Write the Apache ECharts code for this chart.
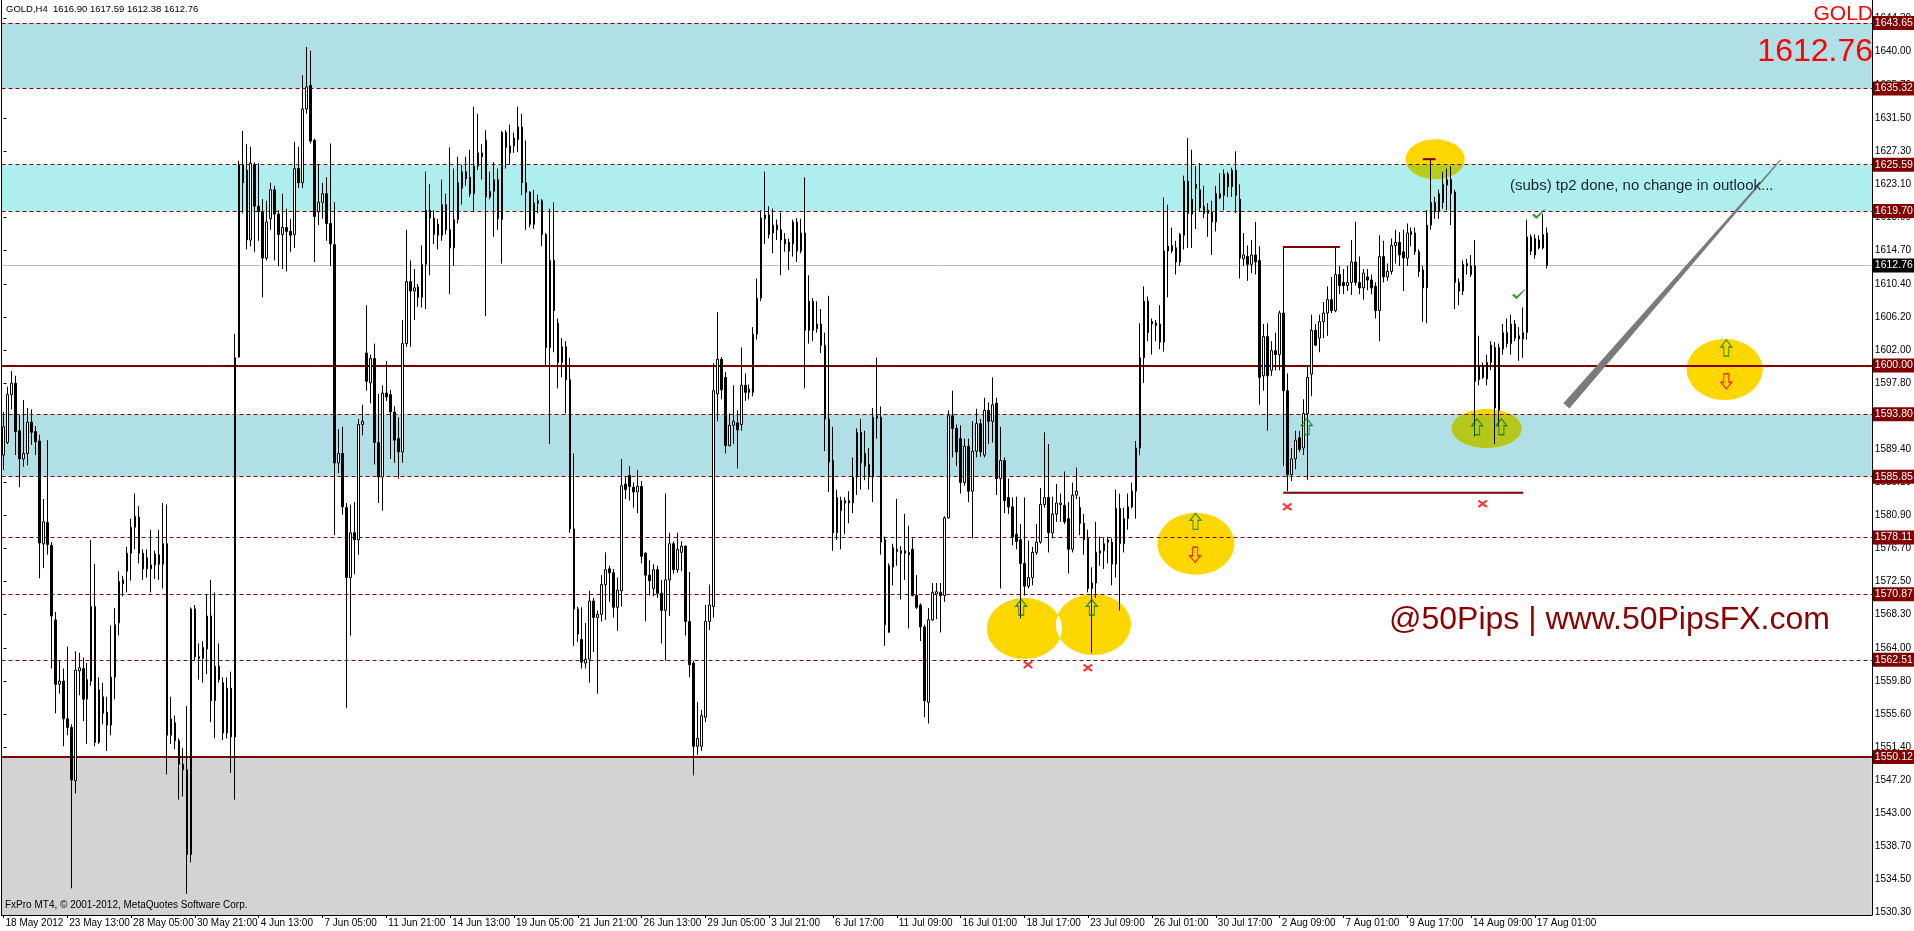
<!DOCTYPE html>
<html><head><meta charset="utf-8">
<script src="https://cdn.jsdelivr.net/npm/echarts@6/dist/echarts.min.js"></script>
<style>html,body{margin:0;padding:0;background:#fff;overflow:hidden}#c{width:1914px;height:931px}</style>
</head><body><div id="c"></div>
<script>
// ---------------- DATA ----------------
const SYMBOL = 'GOLD';
const PERIOD = 'H4';
const OPEN = [
1588.6,1590.2,1596.3,1597.75,1591.7,1588.1,1588.8,1592.8,1591.6,1590.4,
1577.3,1580.0,1577.1,1567.6,1559.4,1559.8,1555.0,1553.9,1547.1,1561.1,
1561.4,1557.5,1559.8,1569.3,1552.0,1557.8,1555.8,1554.2,1560.3,1567.2,
1572.7,1573.8,1576.1,1579.4,1580.7,1576.1,1574.1,1574.1,1574.6,1575.9,
1574.7,1577.3,1552.9,1554.5,1552.2,1549.2,1548.5,1537.7,1569.0,1562.9,
1562.7,1563.9,1568.1,1557.3,1561.7,1559.6,1553.2,1558.9,1552.7,1601.1,
1625.6,1624.9,1616.0,1625.6,1620.3,1619.6,1613.7,1618.7,1622.4,1619.3,
1616.7,1617.6,1617.1,1616.7,1625.1,1623.3,1632.7,1635.7,1628.7,1619.6,
1620.8,1621.9,1618.1,1615.4,1587.6,1588.8,1581.9,1573.0,1578.7,1577.8,
1592.5,1601.6,1597.8,1600.9,1590.2,1585.8,1596.5,1596.3,1594.1,1590.7,
1589.0,1602.8,1610.7,1609.5,1610.0,1608.7,1612.9,1619.8,1618.8,1618.0,
1616.6,1620.5,1617.3,1615.0,1618.6,1622.6,1624.7,1624.0,1621.9,1625.4,
1627.1,1628.7,1621.5,1622.2,1623.7,1618.6,1629.7,1627.1,1628.0,1628.8,
1630.4,1623.3,1622.1,1618.0,1620.7,1621.0,1616.7,1602.3,1613.4,1605.4,
1600.4,1602.4,1598.2,1579.2,1569.0,1565.1,1562.1,1562.6,1570.0,1567.9,
1568.3,1572.1,1574.1,1573.6,1569.2,1571.3,1584.9,1586.0,1584.5,1583.9,
1584.6,1576.1,1573.3,1571.6,1574.0,1571.0,1568.8,1572.7,1577.3,1574.0,
1576.2,1577.0,1567.4,1562.1,1551.5,1551.5,1555.2,1567.4,1569.3,1596.4,
1600.8,1598.5,1589.8,1592.4,1592.7,1592.5,1597.5,1597.0,1596.6,1604.0,
1608.6,1618.7,1619.2,1616.9,1617.9,1617.3,1616.1,1615.7,1615.5,1618.3,
1614.6,1616.9,1604.5,1608.2,1604.7,1605.3,1602.6,1593.2,1587.9,1578.7,
1581.5,1582.8,1582.8,1582.5,1585.8,1591.5,1588.8,1587.4,1585.8,1593.3,
1593.4,1577.8,1566.0,1574.3,1576.6,1576.4,1576.4,1576.2,1576.6,1570.7,
1569.5,1566.7,1557.1,1567.6,1570.9,1571.1,1570.7,1580.6,1593.6,1592.0,
1590.7,1585.1,1589.7,1584.0,1589.1,1592.6,1588.6,1594.3,1592.9,1595.2,
1585.6,1587.9,1583.2,1582.0,1578.5,1577.8,1574.8,1571.9,1573.0,1576.2,
1577.5,1582.3,1583.2,1578.7,1581.1,1582.3,1582.2,1580.5,1576.6,1583.5,
1581.9,1579.9,1578.0,1571.6,1572.3,1576.1,1576.4,1577.8,1577.5,1574.7,
1581.8,1577.3,1580.5,1582.0,1584.0,1589.5,1601.0,1608.2,1605.6,1605.4,
1605.3,1603.0,1615.2,1614.6,1615.0,1613.2,1616.6,1623.5,1619.3,1623.1,
1622.4,1620.3,1619.8,1619.5,1618.3,1621.9,1621.7,1624.4,1622.8,1624.9,
1621.2,1613.6,1613.9,1612.9,1614.1,1613.4,1598.7,1603.7,1599.4,1601.9,
1601.4,1606.7,1596.8,1586.1,1588.1,1590.8,1589.5,1593.9,1598.9,1604.5,
1603.5,1605.6,1606.7,1608.4,1607.0,1611.6,1610.6,1610.2,1610.6,1613.2,
1610.6,1609.9,1611.3,1610.9,1610.1,1607.0,1613.9,1611.3,1612.0,1615.3,
1615.7,1614.5,1613.7,1616.7,1616.9,1614.5,1612.2,1609.9,1617.9,1619.6,
1619.6,1620.8,1623.0,1623.7,1622.1,1610.6,1609.5,1612.7,1611.6,1612.7,
1598.2,1600.0,1600.4,1600.4,1602.3,1594.3,1602.1,1604.2,1602.8,1605.3,
1603.8,1603.4,1604.2,1616.4,1614.1,1616.0,1615.0,1616.90];
const HIGH = [
1594.1,1597.3,1599.3,1598.7,1593.7,1595.6,1594.6,1594.4,1592.3,1591.2,
1583.0,1590.5,1577.5,1568.6,1562.4,1561.4,1564.2,1554.3,1563.6,1563.4,
1562.8,1562.1,1577.8,1574.7,1560.3,1559.6,1557.8,1566.9,1569.1,1573.8,
1573.2,1576.9,1580.5,1583.7,1582.1,1576.6,1576.6,1579.1,1576.4,1579.1,
1582.5,1582.3,1557.8,1555.4,1552.5,1551.3,1556.6,1569.2,1569.5,1564.6,
1564.9,1570.9,1572.7,1571.1,1564.6,1560.3,1560.3,1561.0,1604.0,1626.1,
1629.9,1628.2,1627.9,1625.9,1625.8,1621.2,1621.0,1623.3,1622.9,1619.8,
1621.9,1620.0,1618.7,1628.5,1627.9,1637.0,1640.6,1640.1,1628.9,1625.6,
1623.3,1624.0,1628.3,1620.8,1591.9,1592.2,1582.5,1582.3,1582.6,1593.2,
1595.0,1607.7,1601.4,1602.8,1596.4,1597.5,1600.6,1596.9,1594.8,1593.4,
1605.8,1617.3,1613.4,1612.3,1610.4,1615.3,1624.7,1623.1,1619.8,1618.7,
1623.7,1621.9,1627.8,1625.1,1626.6,1625.6,1626.6,1627.5,1633.0,1632.1,
1628.2,1630.0,1624.7,1625.9,1625.1,1629.9,1630.0,1630.7,1629.7,1633.0,
1632.1,1628.7,1622.2,1622.4,1621.8,1621.2,1616.9,1620.0,1620.8,1606.0,
1603.5,1603.1,1601.0,1588.8,1569.3,1569.2,1567.2,1571.3,1570.4,1568.8,
1573.3,1576.2,1574.5,1574.1,1573.0,1588.1,1585.8,1587.2,1585.1,1586.7,
1585.3,1576.2,1575.2,1574.7,1574.5,1572.7,1583.7,1578.7,1577.6,1578.7,
1577.6,1577.1,1573.7,1562.4,1557.1,1556.1,1569.5,1572.1,1600.3,1606.8,
1601.1,1599.2,1593.9,1597.5,1594.3,1602.3,1599.0,1597.6,1604.9,1611.1,
1619.8,1624.7,1620.3,1620.0,1618.6,1619.5,1616.9,1616.2,1618.6,1618.8,
1618.7,1624.0,1611.5,1608.6,1608.2,1607.2,1604.2,1608.9,1592.2,1584.2,
1583.3,1583.2,1584.0,1588.3,1592.0,1593.2,1591.7,1589.5,1594.6,1601.0,
1594.8,1578.2,1574.8,1577.3,1583.0,1577.0,1581.1,1579.6,1578.0,1573.3,
1569.7,1567.0,1569.1,1572.3,1572.3,1572.3,1580.8,1594.3,1596.8,1592.5,
1592.4,1590.7,1590.7,1592.9,1594.5,1593.2,1595.9,1595.3,1598.5,1595.9,
1592.2,1588.3,1585.6,1583.2,1583.3,1579.8,1583.2,1577.7,1576.9,1579.8,
1584.4,1591.5,1590.0,1583.3,1584.9,1583.7,1586.5,1582.6,1585.1,1587.0,
1583.3,1581.1,1579.1,1574.3,1580.1,1578.2,1578.0,1578.2,1578.0,1584.2,
1583.7,1581.9,1583.7,1585.1,1590.4,1605.4,1610.1,1608.8,1606.0,1605.8,
1607.7,1621.4,1620.5,1617.6,1615.9,1616.9,1624.2,1629.0,1627.5,1625.4,
1625.8,1622.9,1620.7,1621.0,1622.9,1624.5,1625.0,1624.7,1625.2,1627.3,
1623.1,1616.9,1615.3,1616.0,1618.3,1615.2,1605.3,1605.4,1603.1,1604.2,
1607.0,1615.2,1599.0,1589.5,1591.7,1591.7,1595.7,1599.9,1606.5,1605.3,
1606.5,1608.1,1610.1,1611.3,1615.2,1612.7,1612.3,1612.7,1616.0,1618.3,
1613.9,1612.3,1612.3,1611.6,1610.6,1616.6,1615.9,1613.0,1616.2,1617.3,
1617.0,1617.3,1618.1,1617.6,1617.6,1614.8,1612.7,1619.8,1626.3,1621.5,
1622.4,1624.7,1625.1,1625.4,1622.4,1611.1,1613.4,1613.6,1614.1,1616.0,
1603.8,1600.4,1601.4,1603.1,1603.0,1602.8,1605.3,1606.0,1606.5,1605.8,
1604.9,1607.4,1618.6,1616.7,1616.7,1616.6,1619.3,1617.59];
const LOW = [
1586.7,1590.0,1594.4,1588.6,1584.5,1587.1,1587.3,1589.9,1588.6,1572.9,
1574.2,1575.9,1561.4,1555.7,1558.2,1551.5,1552.9,1533.4,1545.5,1558.0,
1554.7,1551.8,1559.2,1551.5,1551.8,1554.3,1550.9,1552.9,1557.5,1565.6,
1570.6,1571.1,1572.6,1576.6,1574.8,1572.7,1573.0,1571.1,1572.8,1572.7,
1571.6,1547.9,1551.8,1551.1,1544.7,1545.1,1532.7,1536.7,1562.4,1560.0,
1559.6,1560.7,1554.6,1552.5,1559.6,1552.3,1552.5,1548.1,1544.7,1601.0,
1619.4,1614.8,1615.2,1614.5,1615.9,1608.7,1613.4,1617.3,1613.4,1612.7,
1612.3,1612.0,1614.5,1615.0,1622.6,1622.6,1632.1,1628.3,1613.2,1617.9,
1618.7,1615.9,1612.7,1578.4,1586.3,1581.0,1556.4,1565.6,1573.4,1575.9,
1591.1,1596.8,1595.2,1587.4,1582.5,1581.5,1595.5,1588.1,1587.6,1585.6,
1587.6,1602.4,1602.4,1605.8,1607.5,1607.4,1607.2,1611.5,1615.5,1614.8,
1615.9,1616.7,1609.1,1612.7,1618.1,1620.5,1622.9,1621.5,1619.6,1624.9,
1623.7,1606.3,1621.2,1616.4,1617.3,1613.0,1625.1,1625.6,1627.1,1627.2,
1621.7,1617.3,1617.6,1617.4,1619.4,1615.2,1600.0,1590.0,1601.7,1597.1,
1598.5,1593.9,1578.7,1564.3,1564.8,1561.4,1561.4,1559.6,1563.5,1558.2,
1567.4,1567.6,1569.9,1567.9,1566.2,1569.3,1583.0,1582.8,1581.9,1581.2,
1574.8,1567.4,1570.7,1570.6,1570.4,1564.6,1562.4,1568.1,1573.5,1573.6,
1573.8,1565.6,1560.3,1547.8,1550.4,1550.9,1554.6,1566.3,1567.9,1592.9,
1595.7,1588.8,1589.7,1590.0,1586.9,1591.7,1595.5,1595.7,1596.1,1603.3,
1608.2,1615.5,1616.2,1614.3,1616.0,1611.5,1614.5,1612.2,1613.9,1613.2,
1614.3,1597.1,1602.8,1603.1,1604.2,1601.6,1589.1,1583.9,1576.4,1577.8,
1576.6,1578.5,1579.9,1581.2,1583.5,1584.2,1585.4,1584.2,1582.6,1590.7,
1575.9,1564.3,1566.0,1572.0,1574.5,1570.2,1572.7,1566.5,1570.6,1569.0,
1564.9,1555.2,1554.4,1567.5,1567.7,1566.0,1569.9,1580.5,1588.3,1587.2,
1583.7,1584.7,1582.6,1578.0,1588.3,1588.4,1588.3,1590.0,1590.2,1583.5,
1571.6,1581.2,1581.1,1577.1,1576.6,1567.8,1570.7,1571.6,1572.0,1575.9,
1577.3,1581.9,1576.2,1578.0,1580.1,1580.1,1579.8,1573.5,1576.2,1583.0,
1578.4,1575.9,1571.1,1563.4,1570.4,1574.5,1574.1,1574.8,1572.0,1573.0,
1568.8,1576.2,1579.1,1581.8,1580.5,1588.6,1597.8,1603.1,1601.4,1603.1,
1602.1,1601.8,1608.7,1614.3,1611.6,1612.7,1614.8,1615.0,1615.0,1617.4,
1619.6,1618.8,1616.4,1614.1,1617.1,1621.2,1619.8,1621.5,1621.5,1619.4,
1611.1,1612.7,1610.8,1611.8,1611.6,1595.0,1596.8,1591.7,1598.7,1599.4,
1599.4,1587.2,1584.0,1585.3,1586.8,1589.0,1588.6,1585.4,1596.1,1602.5,
1601.7,1603.5,1603.8,1606.7,1606.8,1609.1,1609.1,1609.5,1609.0,1610.2,
1609.1,1608.4,1609.6,1609.1,1606.0,1603.1,1610.6,1610.8,1611.6,1613.0,
1612.7,1609.5,1612.7,1615.2,1614.1,1611.3,1605.6,1605.4,1617.3,1618.7,
1618.7,1620.0,1619.8,1617.9,1607.2,1607.7,1609.0,1611.6,1611.3,1591.0,
1597.5,1598.3,1597.5,1599.4,1590.0,1592.2,1601.4,1602.3,1601.4,1603.1,
1600.6,1601.0,1603.3,1614.1,1613.6,1614.8,1614.8,1612.38];
const CLOSE = [
1592.2,1596.3,1597.75,1591.6,1588.1,1588.8,1592.8,1591.5,1590.3,1577.4,
1580.1,1577.2,1568.1,1559.4,1559.8,1555.0,1553.9,1547.2,1561.2,1561.5,
1557.5,1560.0,1569.3,1552.0,1558.7,1555.7,1554.2,1560.3,1567.0,1572.5,
1572.2,1576.1,1579.4,1580.8,1576.1,1574.1,1575.5,1574.6,1576.0,1574.7,
1577.3,1552.9,1555.0,1552.2,1549.2,1548.5,1537.7,1569.0,1562.9,1562.7,
1564.1,1568.1,1557.3,1561.7,1560.0,1553.2,1558.9,1552.7,1601.0,1625.6,
1623.3,1616.0,1625.8,1620.3,1619.6,1613.7,1618.3,1622.4,1619.3,1616.7,
1617.6,1617.1,1616.6,1625.1,1623.3,1632.7,1635.5,1628.6,1619.0,1620.8,
1621.9,1618.1,1615.5,1587.6,1588.8,1582.0,1573.0,1578.7,1577.8,1592.5,
1592.9,1598.0,1600.9,1590.2,1585.8,1596.5,1596.0,1594.1,1590.5,1589.0,
1602.8,1610.7,1609.5,1609.9,1608.7,1612.9,1619.8,1618.8,1616.7,1616.6,
1620.5,1617.3,1615.0,1618.6,1623.3,1624.7,1623.8,1621.9,1625.4,1627.1,
1626.6,1621.5,1622.2,1623.7,1618.7,1629.7,1627.8,1628.0,1629.0,1630.4,
1623.3,1622.1,1618.0,1620.7,1621.0,1616.7,1602.3,1613.4,1607.0,1600.4,
1602.4,1598.2,1579.2,1569.0,1565.8,1562.2,1562.6,1570.0,1567.9,1568.3,
1572.1,1574.0,1573.6,1569.2,1571.4,1584.7,1584.2,1584.6,1583.9,1584.6,
1575.7,1573.3,1572.6,1574.0,1571.0,1568.8,1572.7,1577.3,1574.0,1576.6,
1577.0,1567.4,1561.9,1551.5,1552.5,1555.4,1567.4,1569.5,1596.8,1600.8,
1596.9,1589.8,1592.4,1592.9,1591.8,1597.5,1596.6,1596.6,1604.0,1608.6,
1618.8,1619.2,1616.7,1617.9,1617.3,1616.0,1615.5,1614.6,1618.3,1614.6,
1616.9,1604.5,1608.2,1604.5,1605.3,1602.6,1593.2,1587.7,1578.7,1583.2,
1582.8,1582.5,1582.5,1585.8,1591.5,1587.6,1587.2,1585.8,1593.4,1593.6,
1577.5,1567.0,1574.5,1576.8,1576.3,1576.1,1576.1,1575.9,1570.7,1569.2,
1566.7,1557.3,1567.6,1571.1,1571.2,1570.7,1580.6,1593.6,1592.0,1589.0,
1585.1,1589.7,1584.0,1589.1,1592.6,1589.0,1594.3,1592.9,1595.0,1585.6,
1587.9,1582.8,1582.0,1578.2,1577.6,1574.8,1571.9,1573.0,1576.2,1577.5,
1582.3,1583.2,1578.7,1581.1,1582.5,1582.5,1580.1,1576.6,1583.5,1584.0,
1579.9,1577.8,1571.6,1572.3,1576.2,1576.4,1577.3,1577.5,1574.7,1581.8,
1577.3,1580.5,1582.0,1584.0,1589.5,1601.0,1608.2,1604.2,1605.3,1605.1,
1603.0,1614.6,1614.6,1615.3,1613.2,1616.7,1623.5,1619.4,1621.2,1622.6,
1620.1,1619.4,1619.4,1618.3,1621.9,1621.4,1624.4,1622.8,1624.9,1621.7,
1613.7,1614.1,1612.9,1614.1,1613.2,1598.5,1603.7,1598.7,1601.9,1601.4,
1606.7,1596.8,1586.1,1588.1,1590.5,1589.3,1593.9,1598.5,1604.5,1602.6,
1605.6,1606.7,1608.4,1607.0,1611.6,1610.2,1610.2,1610.6,1613.2,1610.6,
1609.9,1611.8,1610.9,1609.9,1607.0,1613.9,1611.3,1612.0,1615.3,1615.7,
1614.1,1613.7,1616.9,1617.1,1614.5,1612.0,1609.9,1617.9,1620.8,1620.8,
1621.9,1623.1,1623.7,1621.9,1610.6,1609.5,1612.9,1613.0,1612.7,1598.0,
1600.0,1598.5,1598.3,1602.6,1594.6,1602.3,1604.2,1602.8,1605.3,1603.5,
1603.4,1604.2,1616.4,1614.6,1616.2,1615.0,1616.7,1612.76];

// x-axis: one label every 16 bars
const TIME_LABELS = ['18 May 2012','23 May 13:00','28 May 05:00','30 May 21:00','4 Jun 13:00','7 Jun 05:00',
 '11 Jun 21:00','14 Jun 13:00','19 Jun 05:00','21 Jun 21:00','26 Jun 13:00','29 Jun 05:00','3 Jul 21:00',
 '6 Jul 17:00','11 Jul 09:00','16 Jul 01:00','18 Jul 17:00','23 Jul 09:00','26 Jul 01:00','30 Jul 17:00',
 '2 Aug 09:00','7 Aug 01:00','9 Aug 17:00','14 Aug 09:00','17 Aug 01:00'];
const LABEL_EVERY = 16;
const N_SLOTS = 469; // bars + empty space to the right (chart shift)
const CATEGORIES = Array.from({length: N_SLOTS}, (_, i) => String(i));

// y-axis tick labels
const Y_TICKS = [1530.30,1534.50,1538.70,1543.00,1547.20,1551.40,1555.60,1559.80,1564.00,1568.30,1572.50,
 1576.70,1580.90,1585.10,1589.40,1593.60,1597.80,1602.00,1606.20,1610.40,1614.70,1618.90,1623.10,1627.30,
 1631.50,1635.70,1640.00,1644.30];
const Y_MIN = 1530.0, Y_MAX = 1646.58;

// horizontal levels and zones
const DASHED_LEVELS = [1643.65,1635.32,1625.59,1619.70,1593.80,1585.85,1578.11,1570.87,1562.51];
const SOLID_LEVELS = [1600.00,1550.12];
const BID = CLOSE[CLOSE.length - 1];
const ZONE_TOP = [1635.32,1643.65];
const ZONE_MID = [1619.70,1625.59];
const ZONE_LOW = [1585.85,1593.80];
const ZONE_BOTTOM = [Y_MIN,1550.12];

// annotations: [bar index, price]
const ANNOT_ELLIPSES = [[256.0,1566.5],[273.3,1567.0],[299.0,1577.3],[359.0,1626.3],[371.9,1592.0],[431.6,1599.5]];
const ANNOT_UP_ARROWS = [[255.2,1569.2],[272.9,1569.2],[298.9,1580.15],[326.8,1592.25],[369.5,1592.2],[375.6,1592.2],[432.0,1602.25]];
const ANNOT_DOWN_ARROWS = [[298.8,1575.9],[432.0,1598.0]];
const ANNOT_CROSSES = [[256.9,1561.9],[271.9,1561.5],[321.9,1582.0],[370.9,1582.4]];
const ANNOT_CHECKS = [[384.9,1619.3],[379.9,1609.1]];
const ANNOT_SEGMENTS = [
  [[320.9,1583.8],[381.1,1583.8]],
  [[320.9,1615.1],[335.1,1615.1]],
  [[355.9,1626.3],[359.1,1626.3]]
];
const ANNOT_TREND = [[391.9,1594.86],[445.6,1626.2]];

// ---------------- STYLE ----------------
const FONT = "'Liberation Sans', Arial, sans-serif";
const MAROON = '#800000';
const ELLIPSE_RADII = [[37.5,30.5],[37.5,30.5],[38.5,31],[29.5,20],[35,19.5],[38,30.5]];
const ELLIPSE_COLOR = '#ffd700';
// colour of a yellow ellipse where it lies on a coloured zone (MT4 mixes them)
const OVERLAP_ZONES = [[ZONE_TOP, '#b5c61c'], [ZONE_MID, '#b8cc1e'], [ZONE_LOW, '#b5c61c']];

const candles = OPEN.map((o, i) => [o, CLOSE[i], LOW[i], HIGH[i]]);

const tagLabel = (bg) => ({
  show: true, position: 'end', distance: 1,
  formatter: (p) => Number(p.value).toFixed(2),
  color: '#ffffff', backgroundColor: bg, padding: [2, 4, 1, 2],
  fontFamily: FONT, fontSize: 10.5
});

const levelLines = [];
DASHED_LEVELS.forEach(v => levelLines.push({yAxis: v, lineStyle: {type: [4, 3], color: MAROON, width: 1}, label: tagLabel(MAROON)}));
SOLID_LEVELS.forEach(v => levelLines.push({yAxis: v, lineStyle: {type: 'solid', color: MAROON, width: 2}, label: tagLabel(MAROON)}));
levelLines.push({yAxis: BID, lineStyle: {type: 'solid', color: '#c0c0c0', width: 1}, label: tagLabel('#000000')});

const labelShown = (i) => i % LABEL_EVERY === 0 && i / LABEL_EVERY < TIME_LABELS.length;

const UP_PATH = 'path://M5.5,0 L11,7 L8,7 L8,16 L3,16 L3,7 L0,7 Z';
const DOWN_PATH = 'path://M3,0 L8,0 L8,9 L11,9 L5.5,16 L0,9 L3,9 Z';
const CROSS_PATH = 'path://M0,1.5 L1.5,0 L5,2.6 L8.5,0 L10,1.5 L6.6,4 L10,6.5 L8.5,8 L5,5.4 L1.5,8 L0,6.5 L3.4,4 Z';
const CHECK_PATH = 'path://M0,6 L2,4.5 L4.5,7 L12.5,0 L13,0.8 L4.5,10 Z';

function ellipseHalfWidth(cy, rx, ry, y) {
  const t = (y - cy) / ry;
  return t <= -1 || t >= 1 ? 0 : rx * Math.sqrt(1 - t * t);
}
function bandPolygon(cx, cy, rx, ry, yA, yB) {
  const y0 = Math.max(yA, cy - ry), y1 = Math.min(yB, cy + ry);
  if (y1 <= y0) return null;
  const left = [], right = [], steps = 48;
  for (let k = 0; k <= steps; k++) {
    const y = y0 + (y1 - y0) * k / steps, hw = ellipseHalfWidth(cy, rx, ry, y);
    left.push([cx - hw, y]); right.push([cx + hw, y]);
  }
  return left.concat(right.reverse());
}
function lensPolygon(a, b) {
  const y0 = Math.max(a.cy - a.ry, b.cy - b.ry), y1 = Math.min(a.cy + a.ry, b.cy + b.ry);
  if (y1 <= y0) return null;
  const left = [], right = [], steps = 60;
  for (let k = 0; k <= steps; k++) {
    const y = y0 + (y1 - y0) * k / steps;
    const ha = ellipseHalfWidth(a.cy, a.rx, a.ry, y), hb = ellipseHalfWidth(b.cy, b.rx, b.ry, y);
    const l = Math.max(a.cx - ha, b.cx - hb), r = Math.min(a.cx + ha, b.cx + hb);
    if (r > l) { left.push([l, y]); right.push([r, y]); }
  }
  return left.length > 1 ? left.concat(right.reverse()) : null;
}

const series = [
  { // zones and horizontal levels
    type: 'line', data: [], xAxisIndex: 0, yAxisIndex: 0, silent: true,
    markArea: {
      silent: true, z: 1,
      data: [
        [{yAxis: ZONE_TOP[0], itemStyle: {color: '#b0e0e6'}}, {yAxis: ZONE_TOP[1]}],
        [{yAxis: ZONE_MID[0], itemStyle: {color: '#afeeee'}}, {yAxis: ZONE_MID[1]}],
        [{yAxis: ZONE_LOW[0], itemStyle: {color: '#b0e0e6'}}, {yAxis: ZONE_LOW[1]}],
        [{yAxis: ZONE_BOTTOM[0], itemStyle: {color: '#d3d3d3'}}, {yAxis: ZONE_BOTTOM[1]}]
      ]
    },
    markLine: {silent: true, z: 3, symbol: ['none', 'none'], animation: false, data: levelLines}
  },
  { // ellipses
    type: 'custom', xAxisIndex: 1, yAxisIndex: 0, z: 2, silent: true, clip: false,
    data: ANNOT_ELLIPSES,
    renderItem: (params, api) => {
      const geo = (k) => {
        const p = api.coord(ANNOT_ELLIPSES[k]);
        return {cx: p[0], cy: p[1], rx: ELLIPSE_RADII[k][0], ry: ELLIPSE_RADII[k][1]};
      };
      const e = geo(params.dataIndex);
      const children = [{type: 'ellipse', shape: e, style: {fill: ELLIPSE_COLOR}}];
      OVERLAP_ZONES.forEach(([z, col]) => {
        const yTop = api.coord([0, z[1]])[1], yBot = api.coord([0, z[0]])[1];
        const pts = bandPolygon(e.cx, e.cy, e.rx, e.ry, yTop, yBot);
        if (pts) children.push({type: 'polygon', shape: {points: pts}, style: {fill: col}});
      });
      for (let j = 0; j < params.dataIndex; j++) {
        const pts = lensPolygon(e, geo(j));
        if (pts) children.push({type: 'polygon', shape: {points: pts}, style: {fill: '#ffffff'}});
      }
      return {type: 'group', children};
    }
  },
  {
    type: 'candlestick', name: SYMBOL, data: candles, xAxisIndex: 0, yAxisIndex: 0, z: 4,
    barWidth: 2, silent: true,
    itemStyle: {color: '#ffffff', color0: '#000000', borderColor: '#000000', borderColor0: '#000000', borderColorDoji: '#000000', borderWidth: 1},
    emphasis: {disabled: true}
  },
  { // gray trend wedge
    type: 'custom', xAxisIndex: 1, yAxisIndex: 0, z: 5, silent: true, clip: false,
    data: [ANNOT_TREND[0].concat(ANNOT_TREND[1])],
    renderItem: (params, api) => {
      const a = api.coord([api.value(0), api.value(1)]);
      const b = api.coord([api.value(2), api.value(3)]);
      const dx = b[0] - a[0], dy = b[1] - a[1], len = Math.hypot(dx, dy);
      const nx = -dy / len, ny = dx / len, w0 = 4, w1 = 0.6;
      return {type: 'polygon', shape: {points: [
        [a[0] + nx * w0, a[1] + ny * w0], [b[0] + nx * w1, b[1] + ny * w1],
        [b[0] - nx * w1, b[1] - ny * w1], [a[0] - nx * w0, a[1] - ny * w0]]},
        style: {fill: '#7a7a7a'}};
    }
  }
];
ANNOT_SEGMENTS.forEach(seg => series.push({
  type: 'line', xAxisIndex: 1, yAxisIndex: 0, z: 5, silent: true, data: seg,
  showSymbol: false, symbol: 'none', lineStyle: {color: MAROON, width: 2}, clip: false
}));
series.push(
  {type: 'scatter', xAxisIndex: 1, yAxisIndex: 0, z: 6, silent: true, data: ANNOT_UP_ARROWS,
   symbol: UP_PATH, symbolSize: [11, 16], itemStyle: {color: 'rgba(0,0,0,0)', borderColor: '#008000', borderWidth: 1.2}},
  {type: 'scatter', xAxisIndex: 1, yAxisIndex: 0, z: 6, silent: true, data: ANNOT_DOWN_ARROWS,
   symbol: DOWN_PATH, symbolSize: [11, 15], itemStyle: {color: 'rgba(0,0,0,0)', borderColor: '#ff0000', borderWidth: 1.2}},
  {type: 'scatter', xAxisIndex: 1, yAxisIndex: 0, z: 6, silent: true, data: ANNOT_CROSSES,
   symbol: CROSS_PATH, symbolSize: [10, 8], itemStyle: {color: '#ff0000'}},
  {type: 'scatter', xAxisIndex: 1, yAxisIndex: 0, z: 6, silent: true, data: ANNOT_CHECKS,
   symbol: CHECK_PATH, symbolSize: [13, 10], itemStyle: {color: '#008000'}}
);

const last = OPEN.length - 1;
const option = {
  animation: false,
  backgroundColor: '#ffffff',
  grid: {left: 1.5, right: 38, top: 0, bottom: 16, containLabel: false, show: false},
  xAxis: [
    {type: 'category', data: CATEGORIES, boundaryGap: true, z: 10,
     axisLine: {show: true, lineStyle: {color: '#000', width: 1}},
     axisTick: {show: true, alignWithLabel: true, interval: labelShown, length: 3, lineStyle: {color: '#000'}},
     axisLabel: {interval: labelShown, formatter: (v, i) => TIME_LABELS[i / LABEL_EVERY] || '', align: 'left',
                 margin: 3, padding: [0, 0, 0, 2], fontFamily: FONT, fontSize: 10, color: '#000'},
     splitLine: {show: false}},
    {type: 'value', min: -0.5, max: N_SLOTS - 0.5, show: false}
  ],
  yAxis: [
    {type: 'value', position: 'right', min: Y_MIN, max: Y_MAX, z: 0,
     axisLine: {show: false},
     axisTick: {show: true, length: 3, customValues: Y_TICKS, lineStyle: {color: '#000'}},
     axisLabel: {customValues: Y_TICKS, formatter: v => v.toFixed(2), margin: 3, fontFamily: FONT, fontSize: 10, color: '#000'},
     splitLine: {show: false}},
    {type: 'value', position: 'left', z: 10, axisLine: {show: true, onZero: false, lineStyle: {color: '#000'}},
     axisTick: {show: false}, axisLabel: {show: false}, splitLine: {show: false}},
    {type: 'value', position: 'right', z: 10, axisLine: {show: true, onZero: false, lineStyle: {color: '#000'}},
     axisTick: {show: false}, axisLabel: {show: false}, splitLine: {show: false}}
  ],
  series: series,
  graphic: [
    {type: 'text', left: 6, top: 4, z: 20, silent: true,
     style: {text: `${SYMBOL},${PERIOD}  ${OPEN[last].toFixed(2)} ${HIGH[last].toFixed(2)} ${LOW[last].toFixed(2)} ${CLOSE[last].toFixed(2)}`,
             fill: '#000', font: `9.5px ${FONT}`}},
    {type: 'text', left: 5, top: 900, z: 20, silent: true,
     style: {text: 'FxPro MT4, © 2001-2012, MetaQuotes Software Corp.', fill: '#000', font: `10px ${FONT}`}},
    {type: 'text', right: 41, top: 4, z: 20, silent: true,
     style: {text: SYMBOL, fill: '#ff0000', font: `21px ${FONT}`}},
    {type: 'text', right: 41, top: 36, z: 20, silent: true,
     style: {text: CLOSE[last].toFixed(2), fill: '#ff0000', font: `32px ${FONT}`}},
    {type: 'text', left: 1510, top: 178, z: 20, silent: true,
     style: {text: '(subs) tp2 done, no change in outlook...', fill: '#14262f', font: `15px ${FONT}`}},
    {type: 'text', left: 1389, top: 604, z: 20, silent: true,
     style: {text: '@50Pips | www.50PipsFX.com', fill: '#8b0000', font: `32px ${FONT}`}}
  ]
};

const chart = echarts.init(document.getElementById('c'), null, {renderer: 'canvas'});
chart.setOption(option);
</script>
</body></html>
